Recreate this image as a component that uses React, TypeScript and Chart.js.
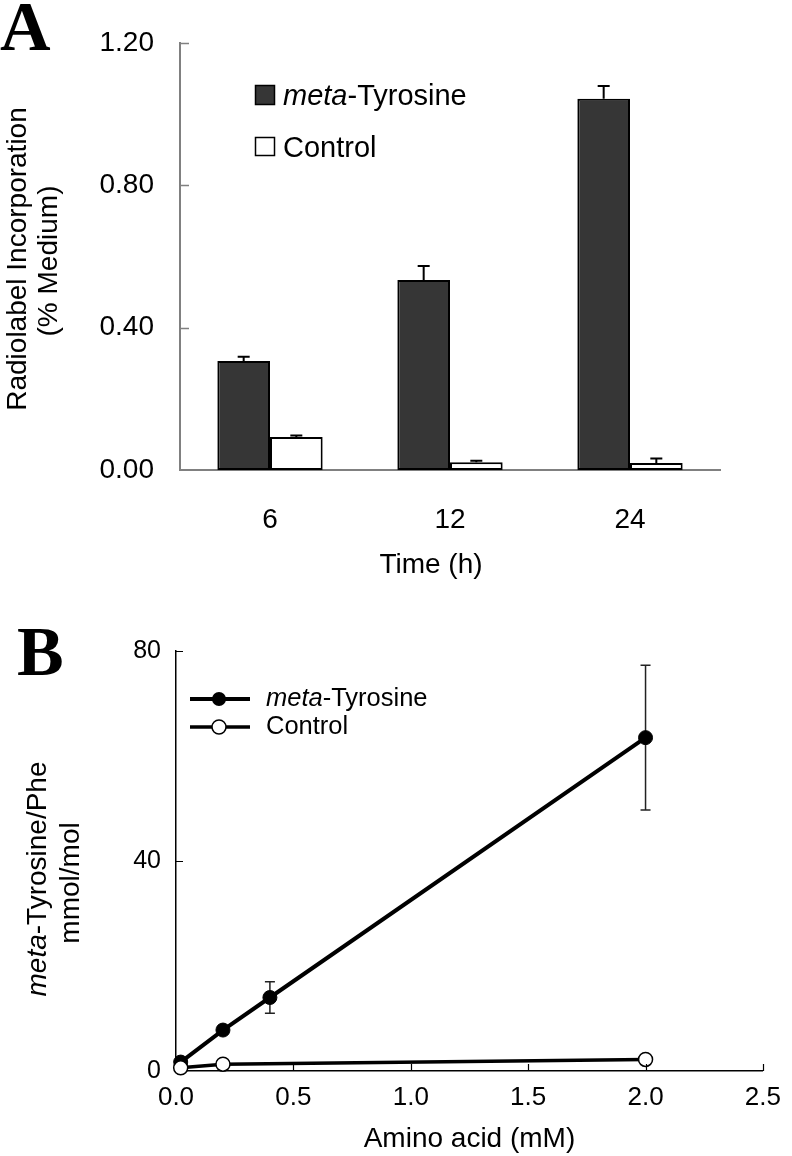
import React, { useEffect, useRef } from 'react';
import { Chart, registerables } from 'chart.js';

Chart.register(...registerables);

const SANS = '"Liberation Sans", Arial, Helvetica, sans-serif';
const SERIF = '"Liberation Serif", "Times New Roman", serif';

// ---------- Panel A data ----------
const timeCategories = ['6', '12', '24'];
const metaTyrosineIncorp = [0.306, 0.534, 1.043];
const metaTyrosineIncorpErr = [0.012, 0.039, 0.036];
const controlIncorp = [0.093, 0.022, 0.02];
const controlIncorpErr = [0.004, 0.004, 0.012];
const incorpTicks = [0, 0.4, 0.8, 1.2];

// ---------- Panel B data ----------
const metaAminoAcid = [0.02, 0.2, 0.4, 2.0];
const metaRatio = [1.7, 7.8, 14.0, 63.5];
const metaRatioErr = [0, 0, 3.0, 13.8];
const controlAminoAcid = [0.02, 0.2, 2.0];
const controlRatio = [0.6, 1.3, 2.2];
const aminoTicks = [0, 0.5, 1.0, 1.5, 2.0, 2.5];
const ratioTicks = [0, 40, 80];

type Part = { text: string; italic?: boolean };

function drawParts(ctx: CanvasRenderingContext2D, parts: Part[], x: number, y: number, size: number, center: boolean, rotate: boolean) {
  ctx.save();
  ctx.translate(x, y);
  if (rotate) ctx.rotate(-Math.PI / 2);
  const fonts = parts.map((p) => `${p.italic ? 'italic ' : ''}${size}px ${SANS}`);
  let total = 0;
  const widths = parts.map((p, i) => {
    ctx.font = fonts[i];
    const w = ctx.measureText(p.text).width;
    total += w;
    return w;
  });
  let cx = center ? -total / 2 : 0;
  ctx.textBaseline = 'alphabetic';
  ctx.textAlign = 'left';
  ctx.fillStyle = '#000';
  parts.forEach((p, i) => {
    ctx.font = fonts[i];
    ctx.fillText(p.text, cx, 0);
    cx += widths[i];
  });
  ctx.restore();
}

const panelLetter = (letter: string, x: number, y: number) => ({
  id: 'panelLetter' + letter,
  afterDraw(chart: any) {
    const ctx = chart.ctx;
    ctx.save();
    ctx.font = `bold 70px ${SERIF}`;
    ctx.fillStyle = '#000';
    ctx.textBaseline = 'alphabetic';
    ctx.textAlign = 'left';
    ctx.fillText(letter, x, y);
    ctx.restore();
  },
});

// ---------- Panel A plugins ----------
const barErrorPlugin = {
  id: 'barErrors',
  afterDatasetsDraw(chart: any) {
    const ctx = chart.ctx;
    const ys = chart.scales.y;
    const errs = [metaTyrosineIncorpErr, controlIncorpErr];
    chart.data.datasets.forEach((ds: any, di: number) => {
      const meta = chart.getDatasetMeta(di);
      meta.data.forEach((bar: any, i: number) => {
        const v = ds.data[i] as number;
        const e = errs[di][i];
        const top = ys.getPixelForValue(v + e);
        const base = ys.getPixelForValue(v);
        ctx.save();
        ctx.strokeStyle = '#000';
        ctx.lineWidth = 2;
        ctx.beginPath();
        ctx.moveTo(bar.x, base);
        ctx.lineTo(bar.x, top);
        ctx.moveTo(bar.x - 6, top);
        ctx.lineTo(bar.x + 6, top);
        ctx.stroke();
        ctx.restore();
      });
    });
  },
};

const ticksA = {
  id: 'ticksA',
  afterDraw(chart: any) {
    const ctx = chart.ctx;
    const ys = chart.scales.y;
    ctx.save();
    ctx.strokeStyle = '#808080';
    ctx.lineWidth = 1.5;
    ctx.beginPath();
    incorpTicks.forEach((v) => {
      if (v === 0) return;
      const py = Math.round(ys.getPixelForValue(v)) + 0.5;
      ctx.moveTo(ys.right, py);
      ctx.lineTo(ys.right + 9, py);
    });
    ctx.stroke();
    ctx.restore();
  },
};

const legendA = {
  id: 'legendA',
  afterDraw(chart: any) {
    const ctx = chart.ctx;
    ctx.save();
    ctx.lineWidth = 1.5;
    ctx.strokeStyle = '#000';
    ctx.fillStyle = '#363636';
    ctx.fillRect(255, 85, 20, 20);
    ctx.strokeRect(255.5, 85.5, 19, 19);
    ctx.fillStyle = '#fff';
    ctx.fillRect(255, 137, 20, 19);
    ctx.strokeRect(255.5, 137.5, 19, 18);
    ctx.restore();
    drawParts(ctx, [{ text: 'meta', italic: true }, { text: '-Tyrosine' }], 283, 105, 29, false, false);
    drawParts(ctx, [{ text: 'Control' }], 283, 157, 29, false, false);
  },
};

const titlesA = {
  id: 'titlesA',
  afterDraw(chart: any) {
    const ctx = chart.ctx;
    drawParts(ctx, [{ text: 'Radiolabel Incorporation' }], 26, 259, 28, true, true);
    drawParts(ctx, [{ text: '(% Medium)' }], 57, 261, 28, true, true);
    drawParts(ctx, [{ text: 'Time (h)' }], 431, 573, 28, true, false);
  },
};

// ---------- Panel B plugins ----------
const pointErrorPlugin = {
  id: 'pointErrors',
  beforeDatasetsDraw(chart: any) {
    const ctx = chart.ctx;
    const xs = chart.scales.x;
    const ys = chart.scales.y;
    ctx.save();
    ctx.strokeStyle = '#222';
    ctx.lineWidth = 1.5;
    ctx.beginPath();
    metaAminoAcid.forEach((xv, i) => {
      const e = metaRatioErr[i];
      if (!e) return;
      const px = xs.getPixelForValue(xv);
      const top = ys.getPixelForValue(metaRatio[i] + e);
      const bot = ys.getPixelForValue(metaRatio[i] - e);
      ctx.moveTo(px, top);
      ctx.lineTo(px, bot);
      ctx.moveTo(px - 5, top);
      ctx.lineTo(px + 5, top);
      ctx.moveTo(px - 5, bot);
      ctx.lineTo(px + 5, bot);
    });
    ctx.stroke();
    ctx.restore();
  },
};

const ticksB = {
  id: 'ticksB',
  afterDraw(chart: any) {
    const ctx = chart.ctx;
    const xs = chart.scales.x;
    const ys = chart.scales.y;
    ctx.save();
    ctx.strokeStyle = '#000';
    ctx.lineWidth = 1.2;
    ctx.beginPath();
    ratioTicks.forEach((v) => {
      if (v === 0) return;
      const py = Math.round(ys.getPixelForValue(v)) + 0.5;
      ctx.moveTo(ys.right, py);
      ctx.lineTo(ys.right + 7, py);
    });
    aminoTicks.forEach((v) => {
      if (v === 0) return;
      const px = Math.round(xs.getPixelForValue(v)) + 0.5;
      ctx.moveTo(px, xs.top);
      ctx.lineTo(px, xs.top - 7);
    });
    ctx.stroke();
    ctx.restore();
  },
};

const legendB = {
  id: 'legendB',
  afterDraw(chart: any) {
    const ctx = chart.ctx;
    ctx.save();
    ctx.strokeStyle = '#000';
    ctx.lineWidth = 4;
    ctx.beginPath();
    ctx.moveTo(190, 99);
    ctx.lineTo(250, 99);
    ctx.stroke();
    ctx.lineWidth = 3.5;
    ctx.beginPath();
    ctx.moveTo(190, 127);
    ctx.lineTo(250, 127);
    ctx.stroke();
    ctx.fillStyle = '#000';
    ctx.beginPath();
    ctx.arc(219, 99, 7, 0, Math.PI * 2);
    ctx.fill();
    ctx.fillStyle = '#fff';
    ctx.lineWidth = 1.5;
    ctx.beginPath();
    ctx.arc(219, 127, 7, 0, Math.PI * 2);
    ctx.fill();
    ctx.stroke();
    ctx.restore();
    drawParts(ctx, [{ text: 'meta', italic: true }, { text: '-Tyrosine' }], 266, 106, 25.5, false, false);
    drawParts(ctx, [{ text: 'Control' }], 266, 134, 25.5, false, false);
  },
};

const yTitleB = {
  id: 'yTitleB',
  afterDraw(chart: any) {
    const ctx = chart.ctx;
    drawParts(ctx, [{ text: 'meta', italic: true }, { text: '-Tyrosine/Phe' }], 46, 279, 28, true, true);
    drawParts(ctx, [{ text: 'mmol/mol' }], 79, 283, 28, true, true);
  },
};

export default function App() {
  const refA = useRef<HTMLCanvasElement>(null);
  const refB = useRef<HTMLCanvasElement>(null);

  useEffect(() => {
    Chart.defaults.font.family = SANS;
    Chart.defaults.color = '#000';

    const chartA = new Chart(refA.current as HTMLCanvasElement, {
      type: 'bar',
      data: {
        labels: timeCategories,
        datasets: [
          {
            label: 'meta-Tyrosine',
            data: metaTyrosineIncorp,
            backgroundColor: '#363636',
            borderColor: '#000',
            borderWidth: 2,
            borderSkipped: false,
            barPercentage: 1,
            categoryPercentage: 0.585,
          },
          {
            label: 'Control',
            data: controlIncorp,
            backgroundColor: '#ffffff',
            borderColor: '#000',
            borderWidth: 2,
            borderSkipped: false,
            barPercentage: 1,
            categoryPercentage: 0.585,
          },
        ],
      },
      options: {
        responsive: false,
        animation: false,
        devicePixelRatio: 1,
        layout: { padding: { top: 43, right: 72, left: 0, bottom: 0 } },
        plugins: { legend: { display: false }, tooltip: { enabled: false } },
        scales: {
          x: {
            grid: { display: false, drawTicks: false, tickLength: 0 },
            border: { display: true, color: '#808080', width: 2 },
            ticks: { font: { size: 28 }, color: '#000', padding: 33 },
            afterFit: (s: any) => {
              s.height = 130;
            },
          },
          y: {
            min: 0,
            max: 1.2,
            afterBuildTicks: (s: any) => {
              s.ticks = incorpTicks.map((v) => ({ value: v }));
            },
            grid: { display: false, drawTicks: false, tickLength: 0 },
            border: { display: true, color: '#808080', width: 2 },
            ticks: { font: { size: 28 }, color: '#000', padding: 26, callback: (v: any) => Number(v).toFixed(2) },
            afterFit: (s: any) => {
              s.width = 180;
            },
          },
        },
      } as any,
      plugins: [barErrorPlugin, ticksA, legendA, titlesA, panelLetter('A', 0, 50)],
    });

    const chartB = new Chart(refB.current as HTMLCanvasElement, {
      type: 'line',
      data: {
        datasets: [
          {
            label: 'meta-Tyrosine',
            data: metaAminoAcid.map((x, i) => ({ x, y: metaRatio[i] })),
            borderColor: '#000',
            borderWidth: 4,
            pointRadius: 7,
            pointBackgroundColor: '#000',
            pointBorderColor: '#000',
            pointBorderWidth: 1,
            tension: 0,
            clip: false,
            order: 1,
          },
          {
            label: 'Control',
            data: controlAminoAcid.map((x, i) => ({ x, y: controlRatio[i] })),
            borderColor: '#000',
            borderWidth: 3.5,
            pointRadius: 7,
            pointBackgroundColor: '#fff',
            pointBorderColor: '#000',
            pointBorderWidth: 1.5,
            tension: 0,
            clip: false,
            order: 0,
          },
        ],
      },
      options: {
        responsive: false,
        animation: false,
        devicePixelRatio: 1,
        layout: { padding: { top: 51, right: 18, left: 0, bottom: 0 } },
        plugins: { legend: { display: false }, tooltip: { enabled: false } },
        scales: {
          x: {
            type: 'linear',
            min: 0,
            max: 2.5,
            afterBuildTicks: (s: any) => {
              s.ticks = aminoTicks.map((v) => ({ value: v }));
            },
            grid: { display: false, drawTicks: false, tickLength: 0 },
            border: { display: true, color: '#000', width: 1.5 },
            ticks: { font: { size: 26 }, color: '#000', padding: 11, maxRotation: 0, callback: (v: any) => Number(v).toFixed(1) },
            title: { display: true, text: 'Amino acid (mM)', font: { size: 28 }, color: '#000', padding: { top: 0, bottom: 0 } },
            afterFit: (s: any) => {
              s.height = 85;
            },
          },
          y: {
            type: 'linear',
            min: 0,
            max: 80,
            afterBuildTicks: (s: any) => {
              s.ticks = ratioTicks.map((v) => ({ value: v }));
            },
            grid: { display: false, drawTicks: false, tickLength: 0 },
            border: { display: true, color: '#000', width: 1.5 },
            ticks: { font: { size: 25 }, color: '#000', padding: 15, callback: (v: any) => String(v) },
            afterFit: (s: any) => {
              s.width = 176;
            },
          },
        },
      } as any,
      plugins: [pointErrorPlugin, ticksB, legendB, yTitleB, panelLetter('B', 17, 75)],
    });

    return () => {
      chartA.destroy();
      chartB.destroy();
    };
  }, []);

  return (
    <div style={{ position: 'absolute', left: 0, top: 0, width: 792, height: 1156, background: '#fff' }}>
      <canvas ref={refA} width={792} height={600} style={{ position: 'absolute', left: 0, top: 0 }} />
      <canvas ref={refB} width={792} height={556} style={{ position: 'absolute', left: 0, top: 600 }} />
    </div>
  );
}
